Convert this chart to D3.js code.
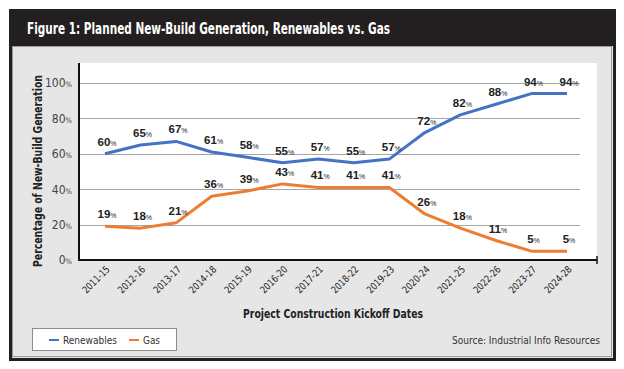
<!DOCTYPE html>
<html>
<head>
<meta charset="utf-8">
<script src="https://cdn.jsdelivr.net/npm/d3@7"></script>
<style>
  body { margin: 0; background: #fff; }
  svg text { font-family: "Liberation Sans Narrow", "DejaVu Sans Condensed", sans-serif; }
</style>
</head>
<body>
<div id="chart"></div>
<script>
// data
const periods = ["2011-15","2012-16","2013-17","2014-18","2015-19","2016-20","2017-21",
                 "2018-22","2019-23","2020-24","2021-25","2022-26","2023-27","2024-28"];
const renewables = [60,65,67,61,58,55,57,55,57,72,82,88,94,94];
const gas = [19,18,21,36,39,43,41,41,41,26,18,11,5,5];
const yTicks = [0,20,40,60,80,100];
const seriesNames = ["Renewables","Gas"];
const seriesColors = ["#4472c4","#ed7d31"];

const W = 624, H = 369;
const svg = d3.select("#chart").append("svg")
    .attr("width", W).attr("height", H);

// squeeze text to mimic the condensed face of the original
function squeeze(sel, len) {
  return sel.attr("textLength", len).attr("lengthAdjust", "spacingAndGlyphs");
}

// frame + title bar
svg.append("rect").attr("x",10.5).attr("y",10.5).attr("width",604).attr("height",349)
   .attr("fill","#e6e6e6").attr("stroke","#231f20").attr("stroke-width",3);
svg.append("rect").attr("x",9).attr("y",9).attr("width",607).attr("height",37).attr("fill","#231f20");
svg.append("rect").attr("x",12.5).attr("y",46.5).attr("width",599).attr("height",310)
   .attr("fill","none").attr("stroke","#9a9a9a").attr("stroke-width",1);
squeeze(svg.append("text").attr("x",27).attr("y",34)
   .attr("fill","#fff").attr("font-size",15).attr("font-weight","bold")
   .text("Figure 1: Planned New-Build Generation, Renewables vs. Gas"), 363);

// plot area
const pL = 79, pR = 597, pT = 63, pB = 260;
svg.append("rect").attr("x",pL).attr("y",pT).attr("width",pR-pL).attr("height",pB-pT)
   .attr("fill","#fff");

const x = d3.scalePoint().domain(periods).range([105,567]);
const y = d3.scaleLinear().domain([0,100]).range([pB,83]);

// grid
svg.append("g").selectAll("line").data(yTicks.filter(d=>d>0)).enter().append("line")
   .attr("x1",pL).attr("x2",580)
   .attr("y1",d=>Math.round(y(d))+0.5).attr("y2",d=>Math.round(y(d))+0.5)
   .attr("stroke","#a6a6a6").attr("stroke-width",1);

// y axis
const yAxis = svg.append("g").attr("transform","translate("+pL+",0)")
   .call(d3.axisLeft(y).tickValues(yTicks).tickSize(0).tickPadding(7).tickFormat(d=>d));
yAxis.select(".domain").remove();
yAxis.selectAll("text").attr("font-size",12).attr("fill","#444")
   .attr("font-family",null)
   .append("tspan").attr("font-size",7.5).text("%");

svg.append("line").attr("x1",pL).attr("x2",pL).attr("y1",pT).attr("y2",pB+1)
   .attr("stroke","#111").attr("stroke-width",2);

// x axis
const xAxis = svg.append("g").attr("transform","translate(0,"+pB+")")
   .call(d3.axisBottom(x).tickSize(0).tickPadding(0));
xAxis.select(".domain").remove();
squeeze(xAxis.selectAll("text")
   .attr("font-size",10).attr("fill","#222").attr("font-family",null)
   .attr("text-anchor","end")
   .attr("dy",null)
   .attr("transform","translate(5,10) rotate(-45)"), 34);

svg.append("line").attr("x1",pL-1).attr("x2",pR).attr("y1",pB).attr("y2",pB)
   .attr("stroke","#111").attr("stroke-width",2);
svg.append("line").attr("x1",pR).attr("x2",pR).attr("y1",pB-4).attr("y2",pB+4)
   .attr("stroke","#111").attr("stroke-width",1.5);

// lines + labels
const line = d3.line().x((d,i)=>x(periods[i])).y(d=>y(d));
[renewables, gas].forEach((vals,k)=>{
  svg.append("path").datum(vals).attr("d",line)
     .attr("fill","none").attr("stroke",seriesColors[k]).attr("stroke-width",3)
     .attr("stroke-linejoin","round");
  const lab = svg.append("g").selectAll("text").data(vals).enter().append("text")
     .attr("x",(d,i)=>x(periods[i])+2).attr("y",d=>y(d)-8)
     .attr("text-anchor","middle")
     .attr("font-size",11.5).attr("font-weight","bold").attr("fill","#222")
     .style("font-family","'Liberation Sans', Arial, sans-serif")
     .text(d=>d);
  lab.append("tspan").attr("font-size",7).attr("font-weight","normal").text("%");
});

// axis titles
squeeze(svg.append("text").attr("transform","translate(42,171) rotate(-90)")
   .attr("text-anchor","middle").attr("font-size",13).attr("font-weight","bold").attr("fill","#222")
   .text("Percentage of New-Build Generation"), 192);
squeeze(svg.append("text").attr("x",333).attr("y",318)
   .attr("text-anchor","middle").attr("font-size",13).attr("font-weight","bold").attr("fill","#222")
   .text("Project Construction Kickoff Dates"), 180);

// legend
svg.append("rect").attr("x",32.5).attr("y",328.5).attr("width",144).attr("height",22)
   .attr("fill","#fff").attr("stroke","#8c8c8c");
const lg = svg.append("g").selectAll("g").data(seriesNames).enter().append("g")
   .attr("transform",(d,i)=>"translate("+(i===0?49:129)+",340)");
lg.append("line").attr("x1",0).attr("x2",10).attr("y1",0).attr("y2",0)
   .attr("stroke",(d,i)=>seriesColors[i]).attr("stroke-width",2);
squeeze(lg.append("text").attr("x",14).attr("y",4).attr("font-size",11).attr("fill","#333").text(d=>d),
   (d,i)=>i===0?54:17);

squeeze(svg.append("text").attr("x",600).attr("y",344).attr("text-anchor","end")
   .attr("font-size",11).attr("fill","#333").text("Source: Industrial Info Resources"), 148);
</script>
</body>
</html>
